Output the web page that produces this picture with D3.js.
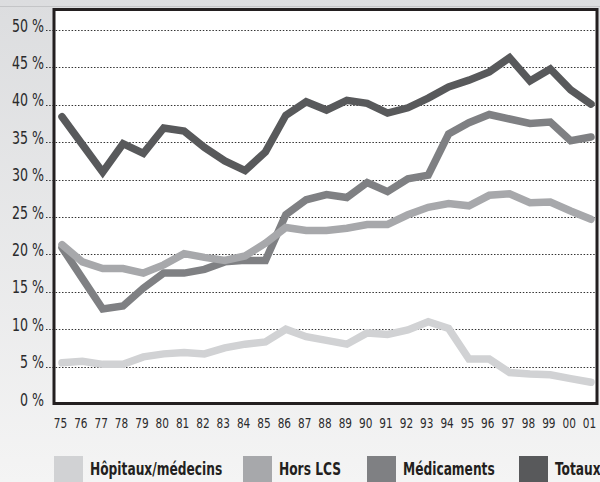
<!DOCTYPE html>
<html>
<head>
<meta charset="utf-8">
<script src="https://cdn.jsdelivr.net/npm/d3@7"></script>
<style>
  html, body { margin: 0; padding: 0; }
  body { width: 600px; height: 482px; overflow: hidden; }
  svg { display: block; font-family: "DejaVu Sans Condensed", "DejaVu Sans", sans-serif; }
</style>
</head>
<body>
<div id="chart"></div>
<script>
const years = ['75','76','77','78','79','80','81','82','83','84','85','86','87','88','89','90','91','92','93','94','95','96','97','98','99','00','01'];
const yTicks = [0, 5, 10, 15, 20, 25, 30, 35, 40, 45, 50];

const hopitaux    = [5.5, 5.7, 5.3, 5.3, 6.3, 6.7, 6.9, 6.7, 7.5, 8.0, 8.3, 10.0, 9.0, 8.5, 8.0, 9.5, 9.3, 9.9, 11.0, 10.1, 6.0, 6.0, 4.2, 4.0, 3.9, 3.4, 2.9];
const horsLCS     = [21.3, 19.0, 18.1, 18.1, 17.5, 18.6, 20.1, 19.6, 19.2, 19.8, 21.5, 23.6, 23.2, 23.2, 23.5, 24.0, 24.0, 25.3, 26.3, 26.8, 26.5, 27.9, 28.1, 26.9, 27.0, 25.8, 24.7];
const medicaments = [20.9, 16.8, 12.7, 13.1, 15.5, 17.5, 17.5, 18.0, 19.0, 19.2, 19.2, 25.3, 27.3, 28.0, 27.6, 29.6, 28.4, 30.1, 30.6, 36.1, 37.6, 38.7, 38.1, 37.5, 37.7, 35.2, 35.7];
const totaux      = [38.4, 34.7, 31.0, 34.8, 33.5, 36.9, 36.5, 34.3, 32.5, 31.2, 33.7, 38.6, 40.4, 39.3, 40.6, 40.2, 38.9, 39.6, 40.9, 42.4, 43.3, 44.4, 46.3, 43.2, 44.8, 42.0, 40.1];

const seriesNames  = ['Hôpitaux/médecins', 'Hors LCS', 'Médicaments', 'Totaux'];
const seriesColors = ['#d1d2d4', '#a7a8ab', '#7f8083', '#58595b'];
const seriesValues = [hopitaux, horsLCS, medicaments, totaux];

const W = 600, H = 482;
const plot = { left: 54, right: 597, top: 9.5, bottom: 403.5 };
const narrow = 0.8; // the original face is a condensed DIN-like font

const svg = d3.select('#chart').append('svg')
  .attr('width', W).attr('height', H);

const defs = svg.append('defs');
const grad = defs.append('linearGradient').attr('id', 'bg')
  .attr('x1', 0).attr('y1', 0).attr('x2', 0).attr('y2', 1);
grad.append('stop').attr('offset', '0%').attr('stop-color', '#dcdddf');
grad.append('stop').attr('offset', '100%').attr('stop-color', '#f4f4f4');

svg.append('rect').attr('width', W).attr('height', H).attr('fill', 'url(#bg)');
svg.append('line').attr('x1', 0).attr('x2', W).attr('y1', 6.5).attr('y2', 6.5)
  .attr('stroke', '#c4c5c7').attr('stroke-width', 1);

const x = d3.scalePoint().domain(years).range([62, 591]);
const y = d3.scaleLinear().domain([0, 50]).range([404, 30]);

// plot background
svg.append('rect')
  .attr('x', plot.left).attr('y', plot.top)
  .attr('width', plot.right - plot.left).attr('height', plot.bottom - plot.top)
  .attr('fill', '#fff');

// dotted gridlines
svg.append('g').selectAll('line').data(yTicks.filter(d => d > 0)).join('line')
  .attr('x1', 46).attr('x2', plot.right)
  .attr('y1', d => Math.round(y(d)) + 0.5).attr('y2', d => Math.round(y(d)) + 0.5)
  .attr('stroke', '#333').attr('stroke-width', 1)
  .attr('stroke-dasharray', '1.5,1.7');

// y labels
svg.append('g').selectAll('text').data(yTicks).join('text')
  .attr('transform', d => `translate(44,${y(d) + 1.5}) scale(${narrow},1)`)
  .attr('text-anchor', 'end')
  .attr('font-size', 17.5)
  .attr('fill', '#2a2a2c')
  .text(d => d + ' %');

// x labels
svg.append('g').selectAll('text').data(years).join('text')
  .attr('transform', d => `translate(${x(d) - 1.5},427.5) scale(${narrow},1)`)
  .attr('text-anchor', 'middle')
  .attr('font-size', 14.6)
  .attr('fill', '#2a2a2c')
  .text(d => d);

// lines, drawn Totaux first so lighter series sit on top
const line = d3.line().x((d, i) => x(years[i])).y(d => y(d));
const order = [3, 2, 1, 0];
svg.append('g').selectAll('path').data(order).join('path')
  .attr('d', i => line(seriesValues[i]))
  .attr('fill', 'none')
  .attr('stroke', i => seriesColors[i])
  .attr('stroke-width', 7.5)
  .attr('stroke-linejoin', 'miter')
  .attr('stroke-linecap', 'round');

// plot frame
svg.append('rect')
  .attr('x', plot.left).attr('y', plot.top)
  .attr('width', plot.right - plot.left).attr('height', plot.bottom - plot.top)
  .attr('fill', 'none').attr('stroke', '#231f20').attr('stroke-width', 3);

// legend
const legX = [54, 243, 367, 519];
const leg = svg.append('g').selectAll('g').data(seriesNames).join('g')
  .attr('transform', (d, i) => `translate(${legX[i]},456)`);
leg.append('rect').attr('width', 29).attr('height', 30)
  .attr('fill', (d, i) => seriesColors[i]);
leg.append('text')
  .attr('transform', `translate(36,19) scale(${narrow},1)`)
  .attr('font-size', 17).attr('font-weight', 'bold')
  .attr('fill', '#231f20')
  .text(d => d);
</script>
</body>
</html>
